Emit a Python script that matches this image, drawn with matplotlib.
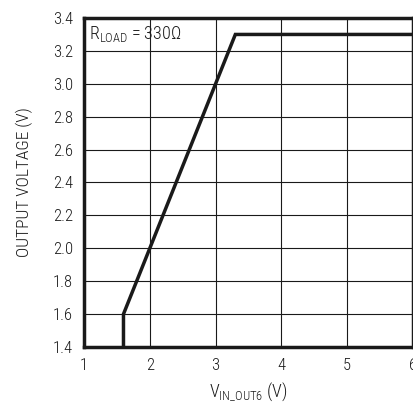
import matplotlib
matplotlib.use("Agg")
import matplotlib.pyplot as plt

fam = "Roboto Condensed"
plt.rcParams['font.family'] = [fam, 'DejaVu Sans']
plt.rcParams['font.weight'] = 'light'
plt.rcParams['axes.labelweight'] = 'light'
plt.rcParams['mathtext.fontset'] = 'custom'
plt.rcParams['mathtext.rm'] = f'{fam}:light'
plt.rcParams['mathtext.it'] = f'{fam}:light'

vin = [1.6, 1.6, 3.3, 6.0]
vout = [1.4, 1.6, 3.3, 3.3]
xticks = [1, 2, 3, 4, 5, 6]
yticks = [1.4, 1.6, 1.8, 2.0, 2.2, 2.4, 2.6, 2.8, 3.0, 3.2, 3.4]

fig = plt.figure(figsize=(4.14, 4.07), dpi=100)
ax = fig.add_axes([84/414, 1-347/407, (413-84)/414, (347-18)/407])
ax.plot(vin, vout, color='#1a1a1a', lw=2.5, solid_joinstyle='miter', clip_on=False)
ax.set_xlim(1, 6)
ax.set_ylim(1.4, 3.4)
ax.set_xticks(xticks)
ax.set_yticks(yticks)
ax.set_xticklabels([str(v) for v in xticks])
ax.set_yticklabels([f"{v:.1f}" for v in yticks])
ax.grid(True, color='#1a1a1a', lw=0.8)
ax.tick_params(length=0, labelsize=12, pad=8, colors='#1a1a1a')
for s in ax.spines.values():
    s.set_linewidth(2.5)
    s.set_color('#1a1a1a')
ax.set_xlabel(r'V$_{\mathregular{IN\_OUT6}}$ (V)', fontsize=13, color='#1a1a1a',
              labelpad=5, fontweight='light')
ax.set_ylabel('OUTPUT VOLTAGE (V)', fontsize=12.5, color='#1a1a1a',
              labelpad=14, fontweight='light')
ax.text(1.08, 3.3, r'R$_{\mathregular{LOAD}}$ = 330Ω', fontsize=13, color='#1a1a1a',
        va='center', ha='left', fontweight='light')
fig.savefig('out.png', dpi=100)
